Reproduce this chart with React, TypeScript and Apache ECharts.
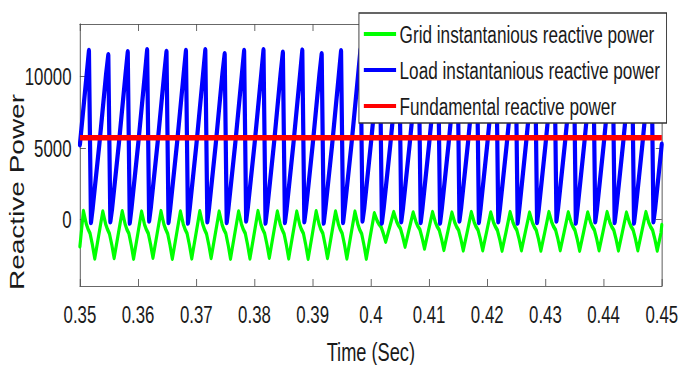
import React, { useEffect, useRef } from "react";
import * as echarts from "echarts";

// ---- data (time in ms, value in var) ----
const xTicks = [350, 360, 370, 380, 390, 400, 410, 420, 430, 440, 450];
const yTicks = [0, 5000, 10000];
const seriesNames = [
  "Grid instantanious reactive power",
  "Load instantanious reactive power",
  "Fundamental reactive power",
];

const loadTime = [
  350.0, 351.17,
  351.55, 351.9, 352.2, 353.35, 354.5,
  354.88, 355.23, 355.53, 356.68, 357.83,
  358.22, 358.57, 358.87, 360.02, 361.17,
  361.55, 361.9, 362.2, 363.35, 364.5,
  364.88, 365.23, 365.53, 366.68, 367.83,
  368.22, 368.57, 368.87, 370.02, 371.17,
  371.55, 371.9, 372.2, 373.35, 374.5,
  374.88, 375.23, 375.53, 376.68, 377.83,
  378.22, 378.57, 378.87, 380.02, 381.17,
  381.55, 381.9, 382.2, 383.35, 384.5,
  384.88, 385.23, 385.53, 386.68, 387.83,
  388.22, 388.57, 388.87, 390.02, 391.17,
  391.55, 391.9, 392.2, 393.35, 394.5,
  394.88, 395.23, 395.53, 396.68, 397.83,
  398.22, 398.57, 398.87, 400.02, 401.17,
  401.55, 401.9, 402.2, 403.35, 404.5,
  404.88, 405.23, 405.53, 406.68, 407.83,
  408.22, 408.57, 408.87, 410.02, 411.17,
  411.55, 411.9, 412.2, 413.35, 414.5,
  414.88, 415.23, 415.53, 416.68, 417.83,
  418.22, 418.57, 418.87, 420.02, 421.17,
  421.55, 421.9, 422.2, 423.35, 424.5,
  424.88, 425.23, 425.53, 426.68, 427.83,
  428.22, 428.57, 428.87, 430.02, 431.17,
  431.55, 431.9, 432.2, 433.35, 434.5,
  434.88, 435.23, 435.53, 436.68, 437.83,
  438.22, 438.57, 438.87, 440.02, 441.17,
  441.55, 441.9, 442.2, 443.35, 444.5,
  444.88, 445.23, 445.53, 446.68, 447.83,
  448.22, 448.57, 448.87, 450.0,
];
const loadValue = [
  5250, 10200,
  11820, -200, 800, 5300, 10200,
  11520, -150, 750, 5250, 10150,
  11730, -250, 800, 5300, 10200,
  11870, -100, 850, 5350, 10250,
  11760, -200, 800, 5300, 10200,
  11820, -250, 750, 5250, 10200,
  11870, -150, 800, 5300, 10250,
  11590, -200, 800, 5250, 10150,
  11820, -100, 850, 5300, 10200,
  11870, -250, 800, 5300, 10250,
  11700, -200, 750, 5250, 10150,
  11850, -150, 800, 5300, 10200,
  11600, -250, 800, 5250, 10150,
  11800, -200, 850, 5300, 10200,
  11900, -100, 800, 5350, 10250,
  11650, -250, 750, 5250, 10150,
  11850, -150, 800, 5300, 10200,
  11750, -200, 800, 5300, 10200,
  11600, -250, 750, 5250, 10150,
  11850, -100, 850, 5300, 10250,
  11800, -200, 800, 5300, 10200,
  11700, -150, 800, 5250, 10150,
  11900, -250, 800, 5350, 10250,
  11650, -200, 750, 5250, 10150,
  11800, -100, 850, 5300, 10200,
  11850, -250, 800, 5300, 10250,
  11600, -150, 750, 5250, 10150,
  11800, -200, 800, 5300, 10200,
  11750, -250, 800, 5300, 10200,
  11850, -150, 800, 5250,
];

const gridTime = [
  350.0,
  350.6, 351.1, 351.4, 351.75, 352.15, 352.55, 353.2,
  353.93, 354.43, 354.73, 355.08, 355.48, 355.88, 356.53,
  357.27, 357.77, 358.07, 358.42, 358.82, 359.22, 359.87,
  360.6, 361.1, 361.4, 361.75, 362.15, 362.55, 363.2,
  363.93, 364.43, 364.73, 365.08, 365.48, 365.88, 366.53,
  367.27, 367.77, 368.07, 368.42, 368.82, 369.22, 369.87,
  370.6, 371.1, 371.4, 371.75, 372.15, 372.55, 373.2,
  373.93, 374.43, 374.73, 375.08, 375.48, 375.88, 376.53,
  377.27, 377.77, 378.07, 378.42, 378.82, 379.22, 379.87,
  380.6, 381.1, 381.4, 381.75, 382.15, 382.55, 383.2,
  383.93, 384.43, 384.73, 385.08, 385.48, 385.88, 386.53,
  387.27, 387.77, 388.07, 388.42, 388.82, 389.22, 389.87,
  390.6, 391.1, 391.4, 391.75, 392.15, 392.55, 393.2,
  393.93, 394.43, 394.73, 395.08, 395.48, 395.88, 396.53,
  397.27, 397.77, 398.07, 398.42, 398.82, 399.22, 399.87,
  400.6, 401.1, 401.4, 401.75, 402.15, 402.55, 403.2,
  403.93, 404.43, 404.73, 405.08, 405.48, 405.88, 406.53,
  407.27, 407.77, 408.07, 408.42, 408.82, 409.22, 409.87,
  410.6, 411.1, 411.4, 411.75, 412.15, 412.55, 413.2,
  413.93, 414.43, 414.73, 415.08, 415.48, 415.88, 416.53,
  417.27, 417.77, 418.07, 418.42, 418.82, 419.22, 419.87,
  420.6, 421.1, 421.4, 421.75, 422.15, 422.55, 423.2,
  423.93, 424.43, 424.73, 425.08, 425.48, 425.88, 426.53,
  427.27, 427.77, 428.07, 428.42, 428.82, 429.22, 429.87,
  430.6, 431.1, 431.4, 431.75, 432.15, 432.55, 433.2,
  433.93, 434.43, 434.73, 435.08, 435.48, 435.88, 436.53,
  437.27, 437.77, 438.07, 438.42, 438.82, 439.22, 439.87,
  440.6, 441.1, 441.4, 441.75, 442.15, 442.55, 443.2,
  443.93, 444.43, 444.73, 445.08, 445.48, 445.88, 446.53,
  447.27, 447.77, 448.07, 448.42, 448.82, 449.22, 449.87,
  450.0,
];
const gridValue = [
  -1900,
  580, -330, -690, -1000, -1800, -2750, -1200,
  550, -350, -700, -1020, -1790, -2720, -1180,
  560, -340, -710, -1000, -1810, -2760, -1210,
  540, -360, -700, -990, -1780, -2700, -1170,
  570, -340, -690, -1010, -1820, -2770, -1220,
  550, -350, -700, -1000, -1800, -2740, -1200,
  560, -330, -700, -1010, -1790, -2720, -1180,
  540, -360, -710, -1000, -1810, -2760, -1210,
  550, -350, -700, -990, -1800, -2750, -1200,
  570, -340, -690, -1000, -1780, -2700, -1170,
  550, -350, -700, -1010, -1800, -2740, -1200,
  540, -360, -710, -1000, -1820, -2770, -1220,
  560, -340, -700, -990, -1790, -2720, -1180,
  550, -350, -700, -1000, -1800, -2750, -1200,
  540, -350, -710, -1010, -1810, -2760, -1250,
  420, -120, -340, -520, -1000, -1570, -600,
  500, -150, -420, -640, -1220, -1920, -790,
  480, -200, -480, -710, -1320, -2050, -850,
  500, -220, -510, -750, -1380, -2150, -920,
  470, -230, -520, -760, -1400, -2180, -950,
  500, -220, -510, -750, -1390, -2170, -940,
  480, -230, -520, -770, -1410, -2200, -960,
  500, -220, -510, -750, -1390, -2170, -940,
  470, -230, -520, -760, -1400, -2190, -950,
  500, -220, -510, -750, -1390, -2160, -940,
  490, -230, -520, -770, -1410, -2200, -960,
  480, -220, -510, -750, -1390, -2170, -940,
  500, -230, -520, -760, -1400, -2180, -950,
  470, -220, -510, -750, -1390, -2170, -940,
  500, -230, -520, -760, -1400, -2190, -950,
  -400,
];

const fundamentalTime = [350, 450];
const fundamentalValue = [5720, 5720];

// ---- layout (chart drawn wider, then squeezed horizontally like the source figure) ----
const W = 970;
const H = 365;
const SX = 680 / W;
const FF = "'Liberation Sans', Arial, Helvetica, sans-serif";
const AX = "#4d4d4d";
const TX = "#1a1a1a";

const zip = (t: number[], v: number[]) => {
  const n = Math.min(t.length, v.length);
  const out: number[][] = [];
  for (let i = 0; i < n; i++) out.push([t[i], v[i]]);
  return out;
};

export default function App() {
  const ref = useRef<HTMLDivElement>(null);
  useEffect(() => {
    if (!ref.current) return;
    const chart = echarts.init(ref.current, null, { renderer: "svg" });
    const xBase = {
      type: "value" as const,
      min: xTicks[0],
      max: xTicks[xTicks.length - 1],
      interval: 10,
      splitLine: { show: false },
      axisLine: { show: true, onZero: false, lineStyle: { color: AX, width: 1 } },
      axisTick: { show: true, inside: true, length: 7, lineStyle: { color: AX, width: 1.2 } },
    };
    const yBase = {
      type: "value" as const,
      min: -4680,
      max: 13700,
      splitLine: { show: false },
      axisLine: { show: true, onZero: false, lineStyle: { color: AX, width: 1.3 } },
      axisTick: {
        show: true,
        inside: true,
        length: 8.5,
        customValues: yTicks,
        lineStyle: { color: AX, width: 1 },
      },
    };
    chart.setOption({
      animation: false,
      backgroundColor: "#ffffff",
      grid: { left: 114, right: 26, top: 24, bottom: 79, outerBoundsMode: "none" },
      legend: {
        data: seriesNames,
        orient: "vertical",
        left: 512,
        top: 13,
        icon: "rect",
        itemWidth: 46,
        itemHeight: 4,
        itemGap: 10,
        padding: [8, 9, 4, 7],
        backgroundColor: "#ffffff",
        borderColor: "#333333",
        borderWidth: 1.3,
        selectedMode: false,
        textStyle: { fontSize: 24.5, lineHeight: 26, color: TX, fontFamily: FF },
        z: 10,
      },
      xAxis: [
        {
          ...xBase,
          position: "bottom",
          axisLabel: {
            show: true,
            margin: 16,
            fontSize: 24,
            color: TX,
            fontFamily: FF,
            formatter: (v: number) => String(v / 1000),
          },
          name: "Time (Sec)",
          nameLocation: "middle",
          nameGap: 53,
          nameTextStyle: { fontSize: 26, color: TX, fontFamily: FF },
        },
        { ...xBase, position: "top", axisLabel: { show: false } },
      ],
      yAxis: [
        {
          ...yBase,
          position: "left",
          axisLabel: {
            show: true,
            customValues: yTicks,
            margin: 12,
            fontSize: 24,
            color: TX,
            fontFamily: FF,
            formatter: (v: number) => String(v),
          },
        },
        { ...yBase, position: "right", axisLabel: { show: false } },
      ],
      graphic: [
        {
          type: "text",
          x: 25,
          y: 192,
          rotation: Math.PI / 2,
          style: {
            text: "Reactive Power",
            fontSize: 28,
            fontFamily: FF,
            fill: TX,
            align: "center",
            verticalAlign: "middle",
          },
        },
      ],
      series: [
        {
          name: seriesNames[0],
          type: "line",
          data: zip(gridTime, gridValue),
          showSymbol: false,
          symbol: "none",
          color: "#00ff00",
          lineStyle: { width: 4.5, color: "#00ff00", join: "round", cap: "round" },
          z: 2,
        },
        {
          name: seriesNames[1],
          type: "line",
          data: zip(loadTime, loadValue),
          showSymbol: false,
          symbol: "none",
          color: "#0000ff",
          lineStyle: { width: 6, color: "#0000ff", join: "round", cap: "round" },
          z: 3,
        },
        {
          name: seriesNames[2],
          type: "line",
          data: zip(fundamentalTime, fundamentalValue),
          showSymbol: false,
          symbol: "none",
          color: "#ff0000",
          lineStyle: { width: 5.5, color: "#ff0000" },
          z: 4,
        },
      ],
    });
    return () => chart.dispose();
  }, []);
  return (
    <div
      ref={ref}
      style={{
        position: "absolute",
        left: 0,
        top: 0,
        width: W,
        height: H,
        transform: `scaleX(${SX})`,
        transformOrigin: "0 0",
      }}
    />
  );
}
